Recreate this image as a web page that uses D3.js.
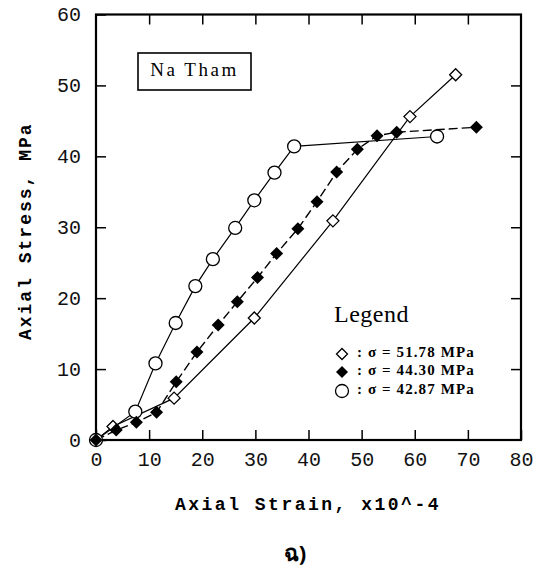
<!DOCTYPE html>
<html>
<head>
<meta charset="utf-8">
<script src="https://cdn.jsdelivr.net/npm/d3@7"></script>
<style>
  body { margin: 0; background: #fff; }
  svg { display: block; }
</style>
</head>
<body>
<div id="chart"></div>
<script>
// axial strain (x10^-4) / axial stress (MPa)
const diamondOpen = [[0, 0], [3.2, 1.9], [14.7, 5.9], [29.8, 17.2], [44.6, 30.9], [59.1, 45.6], [67.7, 51.5]];
const diamondFilled = [[0, 0], [3.8, 1.4], [7.6, 2.5], [11.4, 3.9], [15.1, 8.2], [19.0, 12.4], [23.0, 16.2],
    [26.6, 19.5], [30.4, 22.9], [34.0, 26.3], [38.0, 29.8], [41.6, 33.6], [45.3, 37.8], [49.2, 41.0],
    [52.9, 42.9], [56.6, 43.4], [71.6, 44.1]];
const circleOpen = [[0, 0], [7.4, 4.0], [11.2, 10.8], [15.0, 16.5], [18.7, 21.7], [22.0, 25.5],
    [26.2, 29.9], [29.8, 33.8], [33.6, 37.7], [37.3, 41.4], [64.2, 42.8]];

const xTicks = [0, 10, 20, 30, 40, 50, 60, 70, 80];
const yTicks = [0, 10, 20, 30, 40, 50, 60];
const legendLabels = [": \u03c3 = 51.78 MPa", ": \u03c3 = 44.30 MPa", ": \u03c3 = 42.87 MPa"];

const width = 543, height = 572;
const svg = d3.select("#chart").append("svg")
    .attr("width", width)
    .attr("height", height);

const x = d3.scaleLinear().domain([0, 80]).range([96, 521]);
const y = d3.scaleLinear().domain([0, 60]).range([440, 14.5]);

const monoFont = "'Liberation Mono', 'DejaVu Sans Mono', monospace";
const serifFont = "'Liberation Serif', 'DejaVu Serif', serif";

// frame
svg.append("rect")
    .attr("x", x(0)).attr("y", y(60))
    .attr("width", x(80) - x(0)).attr("height", y(0) - y(60))
    .attr("fill", "none").attr("stroke", "#000").attr("stroke-width", 2.2);

// axes, ticks pointing inwards
const styleAxis = g => {
    g.select(".domain").remove();
    g.selectAll(".tick line").attr("stroke", "#000").attr("stroke-width", 1.5);
    g.selectAll(".tick text")
        .attr("fill", "#111")
        .style("font-family", monoFont)
        .style("font-size", "20px");
};

svg.append("g")
    .attr("transform", `translate(0,${y(0)})`)
    .call(d3.axisBottom(x).tickValues(xTicks).tickSize(-10).tickPadding(12))
    .call(styleAxis);

svg.append("g")
    .attr("transform", `translate(0,${y(60)})`)
    .call(d3.axisTop(x).tickValues(xTicks.slice(1, -1)).tickSize(-10).tickFormat(""))
    .call(styleAxis);

svg.append("g")
    .attr("transform", `translate(${x(0)},0)`)
    .call(d3.axisLeft(y).tickValues(yTicks).tickSize(-10).tickPadding(15))
    .call(styleAxis);

svg.append("g")
    .attr("transform", `translate(${x(80)},0)`)
    .call(d3.axisRight(y).tickValues(yTicks.slice(1, -1)).tickSize(-10).tickFormat(""))
    .call(styleAxis);

// axis titles
svg.append("text")
    .attr("x", 308).attr("y", 505)
    .attr("text-anchor", "middle")
    .attr("dominant-baseline", "middle")
    .style("font-family", monoFont)
    .style("font-size", "18px")
    .style("font-weight", "bold")
    .style("letter-spacing", "2.5px")
    .text("Axial Strain, x10^-4");

svg.append("text")
    .attr("transform", `translate(26,${(y(0) + y(60)) / 2 + 4}) rotate(-90)`)
    .attr("text-anchor", "middle")
    .attr("dominant-baseline", "middle")
    .style("font-family", monoFont)
    .style("font-size", "18px")
    .style("font-weight", "bold")
    .style("letter-spacing", "2px")
    .text("Axial Stress, MPa");

// caption under the chart
svg.append("text")
    .attr("x", 295).attr("y", 555)
    .attr("text-anchor", "middle")
    .attr("dominant-baseline", "middle")
    .style("font-family", "'Noto Sans', 'DejaVu Sans', sans-serif")
    .style("font-size", "22px")
    .style("font-weight", "bold")
    .text("\u0e09)");

// site name box
svg.append("rect")
    .attr("x", 138).attr("y", 53)
    .attr("width", 113).attr("height", 37)
    .attr("fill", "#fff").attr("stroke", "#000").attr("stroke-width", 1.6);
svg.append("text")
    .attr("x", 194.5).attr("y", 72)
    .attr("text-anchor", "middle")
    .attr("dominant-baseline", "middle")
    .style("font-family", serifFont)
    .style("font-size", "19px")
    .style("letter-spacing", "2.5px")
    .text("Na Tham");

// series
const line = d3.line().x(d => x(d[0])).y(d => y(d[1]));

svg.append("path").datum(diamondOpen)
    .attr("d", line).attr("fill", "none").attr("stroke", "#000").attr("stroke-width", 1.2);
svg.append("path").datum(circleOpen)
    .attr("d", line).attr("fill", "none").attr("stroke", "#000").attr("stroke-width", 1.2);
svg.append("path").datum(diamondFilled)
    .attr("d", line).attr("fill", "none").attr("stroke", "#000").attr("stroke-width", 1.4)
    .attr("stroke-dasharray", "9,4");

const diamondPath = r => `M0,${-r}L${r},0L0,${r}L${-r},0Z`;

svg.append("g").selectAll("path").data(diamondOpen).join("path")
    .attr("transform", d => `translate(${x(d[0])},${y(d[1])})`)
    .attr("d", diamondPath(6))
    .attr("fill", "#fff").attr("stroke", "#000").attr("stroke-width", 1.3);

svg.append("g").selectAll("circle").data(circleOpen).join("circle")
    .attr("cx", d => x(d[0])).attr("cy", d => y(d[1])).attr("r", 6.5)
    .attr("fill", "#fff").attr("stroke", "#000").attr("stroke-width", 1.3);

svg.append("g").selectAll("path").data(diamondFilled).join("path")
    .attr("transform", d => `translate(${x(d[0])},${y(d[1])})`)
    .attr("d", diamondPath(6.5))
    .attr("fill", "#000");

// legend
svg.append("text")
    .attr("x", 334).attr("y", 316)
    .attr("dominant-baseline", "middle")
    .style("font-family", serifFont)
    .style("font-size", "24px")
    .style("letter-spacing", "0.5px")
    .text("Legend");

const legendY = [354, 372, 391];
const legend = svg.append("g");
legendY.forEach((ly, i) => {
    if (i === 0) {
        legend.append("path").attr("transform", `translate(342,${ly})`)
            .attr("d", diamondPath(5.5)).attr("fill", "#fff").attr("stroke", "#000").attr("stroke-width", 1.3);
    } else if (i === 1) {
        legend.append("path").attr("transform", `translate(342,${ly})`)
            .attr("d", diamondPath(6)).attr("fill", "#000");
    } else {
        legend.append("circle").attr("cx", 342).attr("cy", ly).attr("r", 6.5)
            .attr("fill", "#fff").attr("stroke", "#000").attr("stroke-width", 1.3);
    }
    legend.append("text")
        .attr("x", 357).attr("y", ly)
        .attr("dominant-baseline", "middle")
        .style("font-family", serifFont)
        .style("font-size", "15px")
        .style("font-weight", "bold")
        .style("letter-spacing", "1.1px")
        .text(legendLabels[i]);
});
</script>
</body>
</html>
